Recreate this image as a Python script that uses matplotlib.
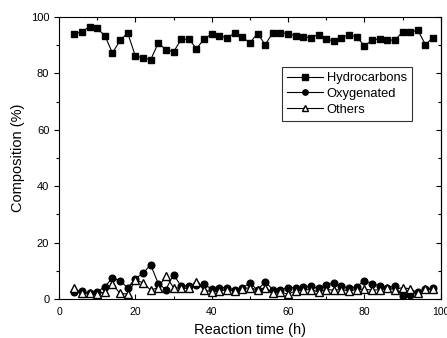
import matplotlib
matplotlib.use("Agg")
import matplotlib.pyplot as plt
from matplotlib.ticker import MultipleLocator

plt.rcParams['font.family'] = ['Liberation Sans', 'DejaVu Sans']

time_h = list(range(4, 100, 2))

hydrocarbons = [93.9, 94.8, 96.5, 95.9, 93.4, 87.2, 91.7, 94.3, 86.1, 85.5,
                84.8, 90.7, 88.4, 87.6, 92.0, 92.1, 88.8, 92.1, 94.0, 93.3,
                92.6, 94.2, 92.9, 90.8, 94.1, 90.2, 94.3, 94.3, 94.1, 93.3,
                92.9, 92.7, 93.7, 92.3, 91.4, 92.6, 93.7, 92.8, 89.8, 91.7,
                92.3, 91.9, 91.7, 94.7, 94.7, 95.2, 90.2, 92.7]

oxygenated = [2.6, 2.9, 2.0, 2.5, 4.4, 7.5, 6.5, 4.0, 7.3, 9.1,
              12.2, 5.5, 3.4, 8.7, 4.6, 4.7, 4.9, 5.2, 3.6, 4.1,
              4.1, 3.2, 3.8, 5.8, 3.2, 6.2, 3.4, 3.4, 4.1, 4.1,
              4.4, 4.6, 3.9, 5.1, 5.8, 4.7, 3.8, 4.4, 6.6, 5.5,
              4.7, 4.1, 4.6, 1.2, 1.4, 2.5, 3.5, 4.0]

others = [3.8, 2.2, 2.0, 1.8, 2.6, 5.3, 2.0, 1.8, 6.7, 5.8,
          3.2, 4.1, 8.2, 4.1, 3.8, 3.8, 6.1, 3.2, 2.6, 2.8,
          3.4, 2.9, 3.6, 4.1, 3.2, 4.1, 2.2, 2.4, 1.8, 2.9,
          3.3, 3.4, 2.5, 3.4, 3.2, 3.4, 2.9, 3.4, 3.5, 3.2,
          3.3, 3.8, 3.4, 4.1, 3.6, 2.2, 3.6, 3.6]

fig = plt.figure(figsize=(4.47, 3.38), dpi=100)
ax = fig.add_axes([0.132, 0.115, 0.854, 0.835])

ax.plot(time_h, hydrocarbons, '-s', color='black', lw=0.8, ms=4.8,
        mfc='black', label='Hydrocarbons')
ax.plot(time_h, oxygenated, '-o', color='black', lw=0.8, ms=4.8,
        mfc='black', label='Oxygenated')
ax.plot(time_h, others, '-^', color='black', lw=0.8, ms=5.2,
        mfc='white', label='Others')

ax.set_xlim(0, 100)
ax.set_ylim(0, 100)
ax.xaxis.set_major_locator(MultipleLocator(20))
ax.xaxis.set_minor_locator(MultipleLocator(10))
ax.yaxis.set_major_locator(MultipleLocator(20))
ax.yaxis.set_minor_locator(MultipleLocator(10))
ax.tick_params(axis='x', which='both', direction='in', top=True, labelsize=7.5, pad=6)
ax.tick_params(axis='y', which='both', direction='out', labelsize=8)
ax.tick_params(which='major', length=3.5, width=0.8)
ax.tick_params(which='minor', length=2, width=0.8)
for s in ax.spines.values():
    s.set_linewidth(0.8)

# right axis ticks pointing inward
axr = ax.secondary_yaxis('right')
axr.yaxis.set_major_locator(MultipleLocator(20))
axr.yaxis.set_minor_locator(MultipleLocator(10))
axr.tick_params(which='both', direction='in', labelright=False)
axr.tick_params(which='major', length=3.5, width=0.8)
axr.tick_params(which='minor', length=2, width=0.8)

ax.set_xlabel('Reaction time (h)', fontsize=10.5, labelpad=4)
ax.set_ylabel('Composition (%)', fontsize=10.5, labelpad=4)

leg = ax.legend(loc='upper left', bbox_to_anchor=(0.584, 0.823), fontsize=9.3,
                frameon=True, fancybox=False, edgecolor='black',
                handlelength=2.8, handletextpad=0.25, borderpad=0.4,
                labelspacing=0.3, borderaxespad=0, markerscale=0.8)
leg.get_frame().set_linewidth(0.8)

fig.savefig('out.png', dpi=100)
